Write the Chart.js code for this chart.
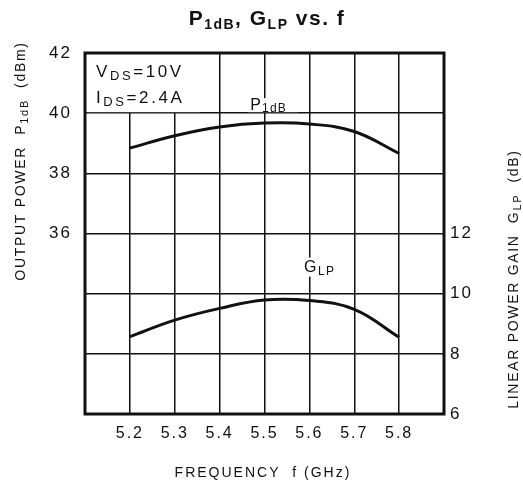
<!DOCTYPE html>
<html><head><meta charset="utf-8">
<script src="https://cdn.jsdelivr.net/npm/chart.js@4.4.1/dist/chart.umd.min.js"></script>
<style>html,body{margin:0;padding:0;background:#fff;}canvas{display:block;}</style>
</head><body>
<canvas id="c" width="523" height="495"></canvas>
<script>
const frequencies = [5.2, 5.3, 5.4, 5.5, 5.6, 5.7, 5.8];
const p1dbValues = [38.84, 39.25, 39.54, 39.67, 39.64, 39.39, 38.66];
const glpValues  = [8.57, 9.12, 9.51, 9.79, 9.77, 9.48, 8.55];
const xTickLabels = ['5.2', '5.3', '5.4', '5.5', '5.6', '5.7', '5.8'];
const leftTickLabels = [36, 38, 40, 42];
const rightTickLabels = [6, 8, 10, 12];

const INK = '#111';
const FONT = '"Liberation Sans", Arial, sans-serif';

function drawRich(ctx, segs, x, y, align, rot, spacing) {
  ctx.save();
  ctx.translate(x, y);
  if (rot) ctx.rotate(rot);
  ctx.letterSpacing = (spacing || 0) + 'px';
  let total = 0;
  const w = segs.map(s => { ctx.font = (s.bold ? 'bold ' : '') + s.size + 'px ' + FONT; const m = ctx.measureText(s.t).width; total += m; return m; });
  let cx = align === 'center' ? -total / 2 : 0;
  ctx.fillStyle = INK;
  ctx.textBaseline = 'alphabetic';
  ctx.textAlign = 'left';
  segs.forEach((s, i) => {
    ctx.font = (s.bold ? 'bold ' : '') + s.size + 'px ' + FONT;
    ctx.fillText(s.t, cx, s.dy || 0);
    cx += w[i];
  });
  ctx.restore();
}

const spacingPlugin = {
  id: 'spacing',
  beforeDraw(chart) { chart.ctx.letterSpacing = '2px'; },
  afterDraw(chart) { chart.ctx.letterSpacing = '0px'; }
};

const decor = {
  id: 'decor',
  afterDatasetsDraw(chart) {
    const ctx = chart.ctx, a = chart.chartArea;
    const xs = chart.scales.x, ys = chart.scales.y, y1 = chart.scales.y1;
    ctx.save();
    ctx.fillStyle = '#fff';
    ctx.fillRect(a.left + 1, a.top + 1, xs.getPixelForValue(5.356) - a.left - 1, ys.getPixelForValue(40) - a.top - 2);
    const pX = xs.getPixelForValue(5.468);
    ctx.fillRect(pX - 2, ys.getPixelForValue(40) - 15, 50, 14);
    const gX = xs.getPixelForValue(5.588);
    ctx.fillRect(gX - 2, y1.getPixelForValue(10.9) - 9, 40, 19);
    ctx.strokeStyle = INK;
    ctx.lineWidth = 3;
    ctx.strokeRect(a.left, a.top, a.right - a.left, a.bottom - a.top);
    ctx.restore();

    const cx0 = a.left + 11;
    drawRich(ctx, [{t:'V', size:17}, {t:'DS', size:13, dy:3}, {t:'=10V', size:17}], cx0, a.top + 24, 'left', 0, 2.6);
    drawRich(ctx, [{t:'I', size:17}, {t:'DS', size:13, dy:3}, {t:'=2.4A', size:17}], cx0, a.top + 50, 'left', 0, 2.6);
    drawRich(ctx, [{t:'P', size:16}, {t:'1dB', size:12, dy:2}], pX, ys.getPixelForValue(40) - 3, 'left', 0, 1.2);
    drawRich(ctx, [{t:'G', size:16}, {t:'LP', size:12, dy:3}], gX, y1.getPixelForValue(10.9) + 5, 'left', 0, 1.5);

    drawRich(ctx, [{t:'P', size:21, bold:true}, {t:'1dB', size:14, bold:true, dy:4}, {t:', G', size:21, bold:true}, {t:'LP', size:14, bold:true, dy:4}, {t:' vs. f', size:21, bold:true}], 267, 25, 'center', 0, 1.5);
    drawRich(ctx, [{t:'OUTPUT POWER  P', size:14}, {t:'1dB', size:11, dy:3}, {t:'  (dBm)', size:14}], 25, 161, 'center', -Math.PI / 2, 1.7);
    drawRich(ctx, [{t:'LINEAR POWER GAIN  G', size:14}, {t:'LP', size:11, dy:3}, {t:'  (dB)', size:14}], 518, 279, 'center', -Math.PI / 2, 1.7);
    drawRich(ctx, [{t:'FREQUENCY  f (GHz)', size:14}], 263, 477, 'center', 0, 2.0);
  }
};

const toPts = vals => frequencies.map((f, i) => ({ x: f, y: vals[i] }));
const lineStyle = { borderColor: INK, borderWidth: 3, pointRadius: 0, tension: 0.4, fill: false };

new Chart(document.getElementById('c'), {
  type: 'line',
  data: {
    datasets: [
      Object.assign({ label: 'P1dB', data: toPts(p1dbValues), yAxisID: 'y' }, lineStyle),
      Object.assign({ label: 'GLP', data: toPts(glpValues), yAxisID: 'y1' }, lineStyle)
    ]
  },
  options: {
    responsive: false,
    animation: false,
    devicePixelRatio: 1,
    layout: { padding: { top: 53, left: 0, right: 0, bottom: 0 } },
    plugins: { legend: { display: false }, tooltip: { enabled: false }, title: { display: false } },
    scales: {
      x: {
        type: 'linear', min: 5.1, max: 5.9,
        afterFit: s => { s.height = 81; },
        afterBuildTicks: s => { s.ticks = []; for (let i = 0; i <= 8; i++) s.ticks.push({ value: +(5.1 + i * 0.1).toFixed(1) }); },
        ticks: {
          autoSkip: false, maxRotation: 0, padding: 10, color: INK,
          font: { family: FONT, size: 16 },
          callback: v => { const l = xTickLabels.find(t => Math.abs(parseFloat(t) - v) < 1e-6); return l || ''; }
        },
        grid: { color: INK, lineWidth: 1.5, drawTicks: false },
        border: { display: false }
      },
      y: {
        position: 'left', min: 30, max: 42,
        afterFit: s => { s.width = 85; },
        ticks: {
          stepSize: 2, padding: 13, color: INK,
          font: { family: FONT, size: 17 },
          callback: v => leftTickLabels.includes(v) ? String(v) : ''
        },
        grid: { color: INK, lineWidth: 1.5, drawTicks: false },
        border: { display: false }
      },
      y1: {
        position: 'right', min: 6, max: 18,
        afterFit: s => { s.width = 79; },
        ticks: {
          stepSize: 2, padding: 6, color: INK,
          font: { family: FONT, size: 17 },
          callback: v => rightTickLabels.includes(v) ? String(v) : ''
        },
        grid: { display: false, drawTicks: false },
        border: { display: false }
      }
    }
  },
  plugins: [spacingPlugin, decor]
});
</script>
</body></html>
